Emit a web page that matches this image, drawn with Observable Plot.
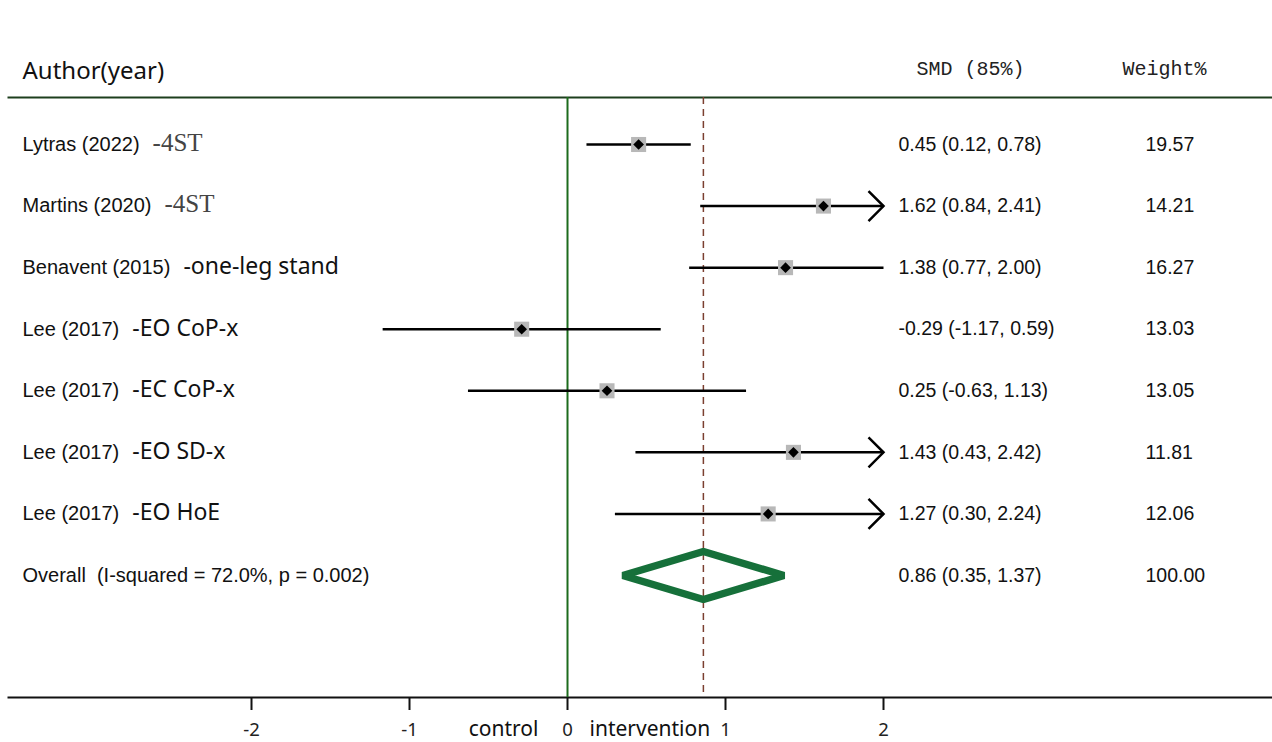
<!DOCTYPE html>
<html><head><meta charset="utf-8">
<script src="https://cdn.jsdelivr.net/npm/d3@7"></script>
<script src="https://cdn.jsdelivr.net/npm/@observablehq/plot@0.6"></script>
<style>body{margin:0;background:#fff} svg text{white-space:pre}</style>
</head><body><div id="chart"></div>
<script>
const authors = ["Lytras (2022)", "Martins (2020)", "Benavent (2015)", "Lee (2017)", "Lee (2017)", "Lee (2017)", "Lee (2017)"];
const outcomes = ["-4ST", "-4ST", "-one-leg stand", "-EO CoP-x", "-EC CoP-x", "-EO SD-x", "-EO HoE"];
const smd = [0.45, 1.62, 1.38, -0.29, 0.25, 1.43, 1.27];
const lower = [0.12, 0.84, 0.77, -1.17, -0.63, 0.43, 0.30];
const upper = [0.78, 2.41, 2.00, 0.59, 1.13, 2.42, 2.24];
const weights = [19.57, 14.21, 16.27, 13.03, 13.05, 11.81, 12.06];
const overallLabel = "Overall  (I-squared = 72.0%, p = 0.002)";
const overallEst = 0.86, overallLo = 0.35, overallHi = 1.37, overallWeight = 100.00;
const xTicks = [-2, -1, 0, 1, 2];
const axisMax = 2;
const headers = {author: "Author(year)", smd: "SMD (85%)", weight: "Weight%"};
const sideLabels = ["control", "intervention"];

const f2 = d3.formatLocale({decimal: ".", thousands: ",", grouping: [3], currency: ["", ""], minus: "-"}).format(".2f");
const rows = authors.map((a, i) => ({
  row: i, label: a + "|" + outcomes[i], est: smd[i], lo: lower[i], hi: upper[i],
  ci: `${f2(smd[i])} (${f2(lower[i])}, ${f2(upper[i])})`, w: f2(weights[i])
}));
const overallRowIdx = rows.length;
const textRows = rows.concat([{row: overallRowIdx, label: overallLabel,
  ci: `${f2(overallEst)} (${f2(overallLo)}, ${f2(overallHi)})`, w: f2(overallWeight)}]);
const dh = 0.39; // diamond half-height in row units
const diamondPts = [
  {x: overallLo, y: overallRowIdx}, {x: overallEst, y: overallRowIdx - dh},
  {x: overallHi, y: overallRowIdx}, {x: overallEst, y: overallRowIdx + dh}
];
const chevron = {draw(ctx, size) { const r = Math.sqrt(size / Math.PI); ctx.moveTo(-r, -r); ctx.lineTo(0, 0); ctx.lineTo(-r, r); }};

const plot = Plot.plot({
  width: 1272, height: 742, marginTop: 97, marginBottom: 45, marginLeft: 8, marginRight: 0,
  x: {domain: [-3.538, 4.462]},
  y: {domain: [0, 7], range: [144, 575], axis: null},
  style: {background: "#fff", fontFamily: "Liberation Sans, Arial, sans-serif", fontSize: "19px", color: "#111"},
  marks: [
    Plot.frame({anchor: "top", stroke: "#1d3f1d", strokeWidth: 2}),
    Plot.frame({anchor: "bottom", stroke: "#111", strokeWidth: 2}),
    Plot.ruleX([0], {stroke: "#1c6b1c", strokeWidth: 2}),
    Plot.ruleX([overallEst], {stroke: "#7b3f30", strokeWidth: 1.5, strokeDasharray: "7,5"}),
    Plot.link(rows, {x1: "lo", x2: d => Math.min(d.hi, axisMax), y1: "row", y2: "row", stroke: "#000", strokeWidth: 2.5}),
    Plot.dot(rows.filter(d => d.hi > axisMax), {x: () => axisMax, y: "row", symbol: chevron, r: 15, fill: "none", stroke: "#000", strokeWidth: 2.5}),
    Plot.dot(rows, {x: "est", y: "row", symbol: "square", r: 8.5, fill: "#b8b8b8", stroke: "none"}),
    Plot.dot(rows, {x: "est", y: "row", symbol: "diamond2", r: 4.8, fill: "#000", stroke: "none"}),
    Plot.line(diamondPts, {x: "x", y: "y", curve: "linear-closed", stroke: "#16703a", strokeWidth: 7.5, strokeLinejoin: "bevel"}),
    Plot.text(textRows, {y: "row", text: "label", frameAnchor: "left", dx: 14, textAnchor: "start", lineAnchor: "middle", fontSize: 20, fontFamily: "Liberation Sans", fill: "#111"}),
    Plot.text(textRows, {y: "row", text: "ci", frameAnchor: "left", dx: 890, textAnchor: "start", lineAnchor: "middle", fontSize: 19.5, fontFamily: "Liberation Sans", fill: "#111"}),
    Plot.text(textRows, {y: "row", text: "w", frameAnchor: "left", dx: 1137, textAnchor: "start", lineAnchor: "middle", fontSize: 19.5, fontFamily: "Liberation Sans", fill: "#111"}),
    Plot.text([headers.author], {frameAnchor: "top-left", dx: 14, dy: -26, textAnchor: "start", lineAnchor: "middle", fontSize: 24, fontFamily: "Noto Sans", fill: "#111"}),
    Plot.text([headers.smd], {frameAnchor: "top-left", dx: 908, dy: -29, textAnchor: "start", lineAnchor: "middle", fontSize: 20, fontFamily: "Liberation Mono", fill: "#222"}),
    Plot.text([headers.weight], {frameAnchor: "top-left", dx: 1114, dy: -29, textAnchor: "start", lineAnchor: "middle", fontSize: 20, fontFamily: "Liberation Mono", fill: "#222"}),
    Plot.text([sideLabels[0]], {x: () => 0, frameAnchor: "bottom", dx: -29, dy: 32, textAnchor: "end", lineAnchor: "middle", fontSize: 21, fontFamily: "Noto Sans", fill: "#111"}),
    Plot.text([sideLabels[1]], {x: () => 0, frameAnchor: "bottom", dx: 22, dy: 32, textAnchor: "start", lineAnchor: "middle", fontSize: 21, fontFamily: "Noto Sans", fill: "#111"}),
    Plot.axisX(xTicks, {anchor: "bottom", tickSize: 13, strokeWidth: 2, tickFormat: () => "", label: null}),
    Plot.text(xTicks, {x: d => d, text: d => `${d}`, frameAnchor: "bottom", dy: 33, textAnchor: "middle", lineAnchor: "middle", fontSize: 18.5, fontFamily: "Noto Sans", fill: "#222"})
  ]
});

d3.select(plot).selectAll("text").each(function () {
  const t = this.textContent;
  if (!t.includes("|")) return;
  const [a, s] = t.split("|");
  const sel = d3.select(this);
  sel.text(null);
  sel.append("tspan").text(a);
  const serif = s === "-4ST";
  sel.append("tspan").attr("dx", 13)
    .attr("font-family", serif ? "Liberation Serif" : "Noto Sans")
    .attr("font-size", serif ? 25 : 23)
    .attr("fill", serif ? "#444" : "#111").text(s);
});
document.getElementById("chart").appendChild(plot);
</script>
</body></html>
